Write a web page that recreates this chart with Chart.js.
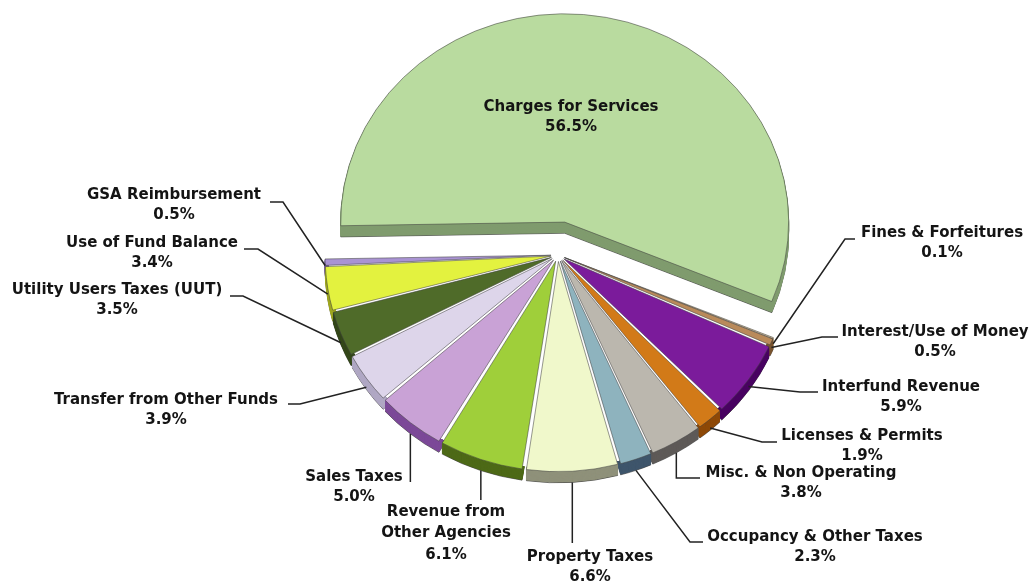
<!DOCTYPE html>
<html><head><meta charset="utf-8">
<script src="https://cdn.jsdelivr.net/npm/chart.js@4.4.1/dist/chart.umd.min.js"></script>
<style>html,body{margin:0;padding:0;background:#fff;overflow:hidden}#wrap{width:1029px;height:583px}</style>
</head><body><div id="wrap"><canvas id="c" width="1029" height="583"></canvas></div>
<script>
// ---- data ----
const categories = [
  'Charges for Services', 'Fines & Forfeitures', 'Interest/Use of Money', 'Interfund Revenue',
  'Licenses & Permits', 'Misc. & Non Operating', 'Occupancy & Other Taxes', 'Property Taxes',
  'Revenue from Other Agencies', 'Sales Taxes', 'Transfer from Other Funds',
  'Utility Users Taxes (UUT)', 'Use of Fund Balance', 'GSA Reimbursement'
];
const values = [56.5, 0.1, 0.5, 5.9, 1.9, 3.8, 2.3, 6.6, 6.1, 5.0, 3.9, 3.5, 3.4, 0.5];

// ---- styles ----
const topColors  = ['#b9db9f','#dccaa4','#b98a5a','#7b1b9b','#d27a18','#bbb7ae','#8eb3be','#f0f8cb','#9fcf3a','#c9a2d6','#ddd5ea','#4f6b29','#e3f23f','#a993d3'];
const sideColors = ['#809b6e','#9a845c','#7a5530','#4a0462','#8e4a08','#5e5a58','#3f566c','#8f917a','#4e6a18','#7c4a98','#b0a8c4','#34481a','#a0a820','#7258a0'];
const explode    = [36, 7, 7, 7, 7, 7, 7, 7, 7, 7, 7, 7, 7, 7];
const spacings   = [0, 4, 4, 4, 4, 4, 4, 4, 4, 4, 4, 4, 4, 4];

// label layout: text position (first line centre), leader-line start and shape
const labelLayout = [
  {x:571, y:107, type:'none'},
  {x:942, y:233, lx:855, ly:239, mx:845, type:'h', ad:0.5},
  {x:935, y:332, lx:838, ly:337, mx:822, type:'h', ad:0.5},
  {x:901, y:387, lx:818, ly:392, mx:800, type:'h', ad:0.6},
  {x:862, y:436, lx:777, ly:442, mx:762, type:'h', ad:0.8},
  {x:801, y:473, lx:700, ly:478, type:'hv', ad:1},
  {x:815, y:537, lx:703, ly:542, mx:690, type:'h', ad:1},
  {x:590, y:557, ly:543, type:'v', ad:1},
  {x:446, y:512, ly:500, type:'v', ad:1, wrap:'Revenue from', gap:21.5},
  {x:354, y:477, ly:482, type:'v', ad:1},
  {x:166, y:400, lx:288, ly:404, mx:300, type:'h', ad:0.8},
  {x:117, y:290, lx:230, ly:296, mx:243, type:'h', ad:0.8},
  {x:152, y:243, lx:244, ly:249, mx:258, type:'h', ad:0.5},
  {x:174, y:195, lx:270, ly:202, mx:283, type:'h', ad:0.3}
];

const TILT = 0.93, DEPTH = 12, CY = 255;

function tilt(chart, ctx) {
  const ca = chart.chartArea, cy = (ca.top + ca.bottom) / 2;
  ctx.translate(0, CY); ctx.scale(1, TILT); ctx.translate(0, -cy);
}
function anchorOf(chart, arc, i, ad) {
  const ca = chart.chartArea, cy0 = (ca.top + ca.bottom) / 2;
  const mid = (arc.startAngle + arc.endAngle) / 2;
  const r = arc.outerRadius + spacings[i] / 2 + explode[i];
  const x = arc.x + Math.cos(mid) * r;
  const yU = arc.y + Math.sin(mid) * r;
  return {x, y: CY + (yU - cy0) * TILT + (ad || 0) * DEPTH * TILT};
}
function wrapArcs(arcs) {
  arcs.forEach((arc, i) => {
    if (arc._exploded) return;
    const orig = arc.draw;
    arc.draw = function (ctx, area) {
      const mid = (this.startAngle + this.endAngle) / 2;
      const saved = this.options;
      if (saved.spacing !== spacings[i]) this.options = Object.assign({}, saved, {spacing: spacings[i]});
      ctx.save();
      ctx.translate(Math.cos(mid) * explode[i], Math.sin(mid) * explode[i]);
      orig.call(this, ctx, area);
      ctx.restore();
      this.options = saved;
    };
    arc._exploded = true;
  });
}
function drawSide(ctx, arc, i, d) {
  const saved = arc.options;
  arc.options = Object.assign({}, saved, {backgroundColor: sideColors[i], borderColor: d === DEPTH ? 'rgba(40,40,40,0.6)' : sideColors[i], borderWidth: 1});
  ctx.save(); ctx.translate(0, d); arc.draw(ctx); ctx.restore();
  arc.options = saved;
}

const pie3d = {
  id: 'pie3d',
  beforeDatasetsDraw(chart) {
    const ctx = chart.ctx;
    const arcs = chart.getDatasetMeta(0).data;
    wrapArcs(arcs);
    ctx.save();
    tilt(chart, ctx);
    // the big exploded slice: full extrusion
    for (let d = DEPTH; d >= 1; d--) drawSide(ctx, arcs[0], 0, d);
    // the other slices: only the rim band shows below the top faces
    const a0 = arcs[1];
    ctx.save();
    ctx.beginPath();
    ctx.rect(-5000, -5000, 10000, 10000);
    ctx.arc(a0.x, a0.y, a0.outerRadius + 6, 0, Math.PI * 2, true);
    ctx.clip('evenodd');
    for (let d = DEPTH; d >= 1; d--) {
      for (let i = 1; i < arcs.length; i++) drawSide(ctx, arcs[i], i, d);
    }
    ctx.restore();
  },
  afterDatasetsDraw(chart) {
    const ctx = chart.ctx;
    ctx.restore();
    const arcs = chart.getDatasetMeta(0).data;
    ctx.save();
    ctx.font = 'bold 15px "DejaVu Sans"';
    ctx.fillStyle = '#141414';
    ctx.strokeStyle = '#222';
    ctx.lineWidth = 1.5;
    ctx.textAlign = 'center';
    ctx.textBaseline = 'middle';
    arcs.forEach((arc, i) => {
      const L = labelLayout[i];
      const pct = values[i].toFixed(1) + '%';
      let lines;
      if (L.wrap) lines = [L.wrap, categories[i].slice(L.wrap.length).trim(), pct];
      else lines = [categories[i], pct];
      const gap = L.gap || 20;
      lines.forEach((t, k) => ctx.fillText(t, L.x, L.y + k * gap));
      if (L.type === 'none') return;
      const a = anchorOf(chart, arc, i, L.ad);
      ctx.beginPath();
      if (L.type === 'h') {
        ctx.moveTo(L.lx, L.ly); ctx.lineTo(L.mx, L.ly); ctx.lineTo(a.x, a.y);
      } else if (L.type === 'v') {
        ctx.moveTo(a.x, L.ly); ctx.lineTo(a.x, a.y);
      } else if (L.type === 'hv') {
        ctx.moveTo(L.lx, L.ly); ctx.lineTo(a.x, L.ly); ctx.lineTo(a.x, a.y);
      }
      ctx.stroke();
    });
    ctx.restore();
  }
};

new Chart(document.getElementById('c'), {
  type: 'pie',
  data: {
    labels: categories,
    datasets: [{
      data: values,
      backgroundColor: topColors,
      borderColor: 'rgba(60,60,60,0.55)',
      borderWidth: 1,
      spacing: 4,
      clip: false
    }]
  },
  options: {
    responsive: false,
    devicePixelRatio: 1,
    animation: false,
    events: [],
    rotation: -91,
    radius: 224,
    layout: {padding: {left: 87, right: 0, top: 0, bottom: 0}},
    plugins: {legend: {display: false}, tooltip: {enabled: false}, title: {display: false}}
  },
  plugins: [pie3d]
});
</script>
</body></html>
